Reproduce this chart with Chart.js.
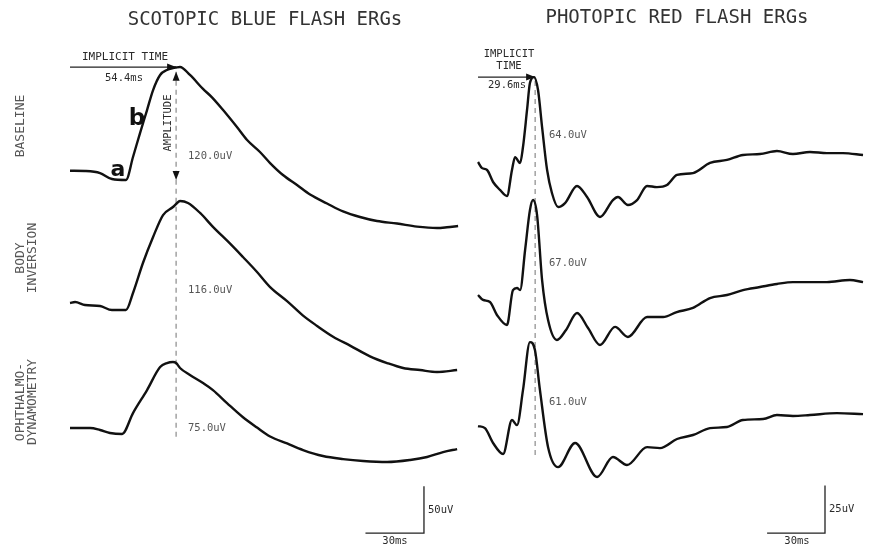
<!DOCTYPE html>
<html>
<head>
<meta charset="utf-8">
<script src="https://cdn.jsdelivr.net/npm/chart.js@4.4.1/dist/chart.umd.min.js"></script>
<style>
  html, body { margin: 0; padding: 0; background: #fff; }
  #wrap { position: relative; width: 869px; height: 545px; }
</style>
</head>
<body>
<div id="wrap"><canvas id="erg-chart" width="869" height="545"></canvas></div>
<script>
// scotopic blue flash ERGs: time (ms after flash) and response (uV from pre-flash level)
let scotBaseT = [0, 7.7, 15.4, 21.5, 28.7, 32.3, 35.9, 39.5, 42.6, 46.2, 49.7, 52.8, 54.4, 56.4, 61.5, 68.2, 72.8, 78.5, 85.6, 90.8, 97.4, 102.6, 109.2, 116.4, 123.1, 131.8, 140.0, 148.7, 157.4, 167.7, 177.9, 188.2, 193.3, 199.0];
let scotBaseV = [0, -0.3, -2.5, -8.9, -9.9, 14.7, 40.3, 64.9, 86.3, 102.4, 107.7, 109.8, 110.4, 110.9, 102.4, 87.5, 78.5, 64.9, 46.7, 32.8, 20.0, 8.2, -4.6, -15.3, -25.5, -35.0, -43.5, -49.5, -53.8, -56.5, -59.8, -61.3, -60.5, -59.1];
let scotBodyT = [0, 2.6, 7.7, 15.4, 21.5, 28.7, 32.3, 37.4, 42.6, 47.7, 52.8, 54.4, 56.4, 60.5, 66.7, 73.3, 82.1, 88.7, 95.9, 102.6, 111.3, 119.5, 126.7, 134.9, 143.6, 153.8, 162.6, 170.8, 179.5, 188.2, 198.5];
let scotBodyV = [0, 1.1, -2.1, -3.2, -7.5, -7.5, 10.7, 42.8, 70.6, 94.1, 102.7, 105.9, 109.1, 107.0, 96.3, 81.5, 63.5, 49.2, 33.2, 17.1, 2.0, -13.5, -24.5, -36.0, -45.5, -57.0, -64.2, -69.5, -71.7, -73.8, -71.7];
let scotOphT = [0, 10.3, 15.4, 20.5, 26.7, 32.3, 39.5, 46.2, 49.7, 52.8, 54.4, 56.4, 61.5, 68.2, 73.3, 80.5, 88.7, 95.9, 102.6, 111.3, 119.5, 129.7, 140.0, 150.3, 162.6, 174.4, 183.1, 191.3, 198.5];
let scotOphV = [0, 0, -2.1, -5.3, -6.4, 16.0, 40.6, 65.2, 69.5, 70.6, 69.5, 64.2, 56.7, 48.1, 40.6, 26.7, 11.5, 0.5, -9.0, -16.5, -23.5, -29.9, -33.2, -35.3, -36.4, -34.2, -31.0, -25.7, -22.5];

// photopic red flash ERGs
let photBaseT = [0, 2.1, 4.7, 7.8, 11.4, 15.0, 17.6, 19.2, 21.8, 23.3, 25.4, 26.9, 29.0, 31.1, 33.2, 35.8, 38.3, 41.5, 45.1, 51.3, 56.5, 63.2, 69.9, 72.5, 77.7, 82.4, 87.6, 92.7, 97.9, 103.1, 111.4, 120.2, 129.0, 137.3, 146.1, 154.9, 163.2, 172.0, 180.8, 189.1, 199.5];
let photBaseV = [0, -3.2, -4.2, -10.5, -14.7, -17.9, -4.2, 2.6, -0.5, 7.9, 27.4, 41.6, 44.7, 37.9, 18.4, -4.2, -16.3, -23.7, -21.6, -12.6, -18.4, -28.9, -20.0, -18.4, -22.6, -20.0, -12.6, -13.2, -12.1, -6.8, -5.8, -0.5, 1.1, 3.7, 4.2, 5.8, 4.2, 5.3, 4.7, 4.7, 3.7];
let photBodyT = [0, 2.6, 6.2, 9.8, 15.0, 18.1, 20.2, 21.8, 24.4, 26.9, 28.5, 30.6, 33.2, 36.3, 40.9, 45.6, 51.3, 57.0, 63.2, 71.0, 77.7, 87.6, 95.9, 103.0, 111.4, 120.2, 129.0, 137.3, 146.1, 154.9, 163.2, 180.8, 192.7, 199.5];
let photBodyV = [0, -2.6, -3.7, -10.5, -15.8, 2.6, 3.7, 2.6, 23.7, 44.7, 50.0, 42.1, 7.9, -13.2, -23.7, -18.4, -9.5, -17.4, -26.3, -16.8, -22.1, -11.6, -11.6, -9.0, -6.8, -1.6, 0, 2.6, 4.2, 5.8, 6.8, 6.8, 7.9, 6.8];
let photOphT = [0, 3.6, 7.8, 13.0, 17.6, 20.2, 23.3, 26.9, 29.5, 32.1, 36.3, 41.5, 50.3, 61.7, 69.9, 77.2, 87.6, 94.3, 103.1, 111.4, 120.2, 129.0, 137.3, 147.7, 154.9, 163.2, 172.0, 186.0, 199.5];
let photOphV = [0, -1.1, -8.9, -14.7, 3.2, 0.5, 18.9, 44.2, 40.0, 18.9, -11.1, -21.6, -8.9, -26.8, -16.3, -20.5, -11.1, -11.6, -6.8, -4.7, -1.1, -0.5, 3.2, 3.7, 5.8, 5.3, 5.8, 6.8, 6.3];

// measured values printed on the figure
let scotAmps = [120, 116, 75];
let photAmps = [64, 67, 61];
let scotImplicit = 54.4;
let photImplicit = 29.6;
let barMs = 30;
let scotBarUv = 50;
let photBarUv = 25;

// layout: vertical stacking of the three rows (uV) and scale-bar corners
let scotRowShift = [0, -141.5, -275.2];
let photRowShift = [0, -70, -139];
let scotBarCorner = { x: 181.5, y: -387.5 };
let photBarCorner = { x: 179.8, y: -195.3 };

let toXY = (ts, vs, shift) => ts.map((t, i) => ({ x: t, y: vs[i] + shift }));

let trace = (ts, vs, shift, side) => ({
  data: toXY(ts, vs, shift),
  xAxisID: 'x' + side,
  yAxisID: 'y' + side,
  borderColor: '#111',
  borderWidth: 2.4,
  cubicInterpolationMode: 'monotone',
  pointRadius: 0,
  fill: false,
  clip: false,
});

let thinLine = (pts, side, dash) => ({
  data: pts,
  xAxisID: 'x' + side,
  yAxisID: 'y' + side,
  borderColor: dash ? '#8a8a8a' : '#222',
  borderWidth: dash ? 1.2 : 1.3,
  borderDash: dash ? [5, 4] : [],
  tension: 0,
  pointRadius: 0,
  fill: false,
  clip: false,
});

let scotPeak = Math.max(...scotBaseV);
let scotTrough = Math.min(...scotBaseV.slice(0, 6));
let photPeak = Math.max(...photBaseV);

let datasets = [
  trace(scotBaseT, scotBaseV, scotRowShift[0], 'L'),
  trace(scotBodyT, scotBodyV, scotRowShift[1], 'L'),
  trace(scotOphT, scotOphV, scotRowShift[2], 'L'),
  trace(photBaseT, photBaseV, photRowShift[0], 'R'),
  trace(photBodyT, photBodyV, photRowShift[1], 'R'),
  trace(photOphT, photOphV, photRowShift[2], 'R'),
  // implicit time arrows
  thinLine([{ x: 0, y: scotPeak }, { x: scotImplicit, y: scotPeak }], 'L', false),
  thinLine([{ x: 0, y: photPeak }, { x: photImplicit, y: photPeak }], 'R', false),
  // dashed peak markers
  thinLine([{ x: scotImplicit, y: scotPeak - 5 }, { x: scotImplicit, y: scotRowShift[2] - 11 }], 'L', true),
  thinLine([{ x: photImplicit, y: photPeak - 2 }, { x: photImplicit, y: photRowShift[2] - 17 }], 'R', true),
  // calibration bars
  thinLine([
    { x: scotBarCorner.x - barMs, y: scotBarCorner.y },
    { x: scotBarCorner.x, y: scotBarCorner.y },
    { x: scotBarCorner.x, y: scotBarCorner.y + scotBarUv },
  ], 'L', false),
  thinLine([
    { x: photBarCorner.x - barMs, y: photBarCorner.y },
    { x: photBarCorner.x, y: photBarCorner.y },
    { x: photBarCorner.x, y: photBarCorner.y + photBarUv },
  ], 'R', false),
];

let mono = "'DejaVu Sans Mono', monospace";

let drawText = (ctx, txt, x, y, font, color, align, rot) => {
  ctx.save();
  ctx.translate(x, y);
  if (rot) ctx.rotate(rot);
  ctx.font = font;
  ctx.fillStyle = color;
  ctx.textAlign = align || 'left';
  ctx.textBaseline = 'middle';
  ctx.fillText(txt, 0, 0);
  ctx.restore();
};

let arrowHead = (ctx, x, y, dir) => {
  let len = 9, half = 3.5;
  ctx.beginPath();
  ctx.moveTo(x, y);
  if (dir === 'right') { ctx.lineTo(x - len, y - half); ctx.lineTo(x - len, y + half); }
  if (dir === 'up') { ctx.lineTo(x - half, y + len); ctx.lineTo(x + half, y + len); }
  if (dir === 'down') { ctx.lineTo(x - half, y - len); ctx.lineTo(x + half, y - len); }
  ctx.closePath();
  ctx.fill();
};

let ergLabels = {
  id: 'ergLabels',
  afterDatasetsDraw(chart) {
    let ctx = chart.ctx;
    let s = chart.scales;
    let ink = '#2a2a2a', soft = '#555';
    let up = -Math.PI / 2;

    // titles
    drawText(ctx, 'SCOTOPIC BLUE FLASH ERGs', 265, 20, '19px ' + mono, '#333', 'center');
    drawText(ctx, 'PHOTOPIC RED FLASH ERGs', 677, 18, '19px ' + mono, '#333', 'center');

    // row labels
    drawText(ctx, 'BASELINE', 21, 126, '13px ' + mono, soft, 'center', up);
    drawText(ctx, 'BODY', 21, 258, '13px ' + mono, soft, 'center', up);
    drawText(ctx, 'INVERSION', 33, 258, '13px ' + mono, soft, 'center', up);
    drawText(ctx, 'OPHTHALMO-', 21, 402, '13px ' + mono, soft, 'center', up);
    drawText(ctx, 'DYNAMOMETRY', 33, 402, '13px ' + mono, soft, 'center', up);

    // arrowheads
    ctx.fillStyle = '#111';
    let lx = s.xL.getPixelForValue(scotImplicit);
    arrowHead(ctx, lx, s.yL.getPixelForValue(scotPeak), 'right');
    arrowHead(ctx, lx, s.yL.getPixelForValue(scotPeak - 5), 'up');
    arrowHead(ctx, lx, s.yL.getPixelForValue(scotTrough), 'down');
    let rx = s.xR.getPixelForValue(photImplicit);
    arrowHead(ctx, rx, s.yR.getPixelForValue(photPeak), 'right');

    // left panel annotations
    drawText(ctx, 'IMPLICIT TIME', 125, 57, '11px ' + mono, ink, 'center');
    drawText(ctx, scotImplicit.toFixed(1) + 'ms', 124, 78, '10.5px ' + mono, ink, 'center');
    drawText(ctx, 'AMPLITUDE', 168, 123, '10.5px ' + mono, ink, 'center', up);
    drawText(ctx, 'a', 118, 170, 'bold 22px "DejaVu Sans", sans-serif', '#111', 'center');
    drawText(ctx, 'b', 137, 119, 'bold 23px "DejaVu Sans", sans-serif', '#111', 'center');
    let ampY = [156, 290, 428];
    scotAmps.forEach((a, i) => drawText(ctx, a.toFixed(1) + 'uV', 188, ampY[i], '10.5px ' + mono, soft, 'left'));
    drawText(ctx, scotBarUv + 'uV', 428, 510, '10.5px ' + mono, ink, 'left');
    drawText(ctx, barMs + 'ms', 395, 541, '10.5px ' + mono, ink, 'center');

    // right panel annotations
    drawText(ctx, 'IMPLICIT', 509, 54, '10.5px ' + mono, ink, 'center');
    drawText(ctx, 'TIME', 509, 66, '10.5px ' + mono, ink, 'center');
    drawText(ctx, photImplicit.toFixed(1) + 'ms', 507, 85, '10.5px ' + mono, ink, 'center');
    let pAmpY = [135, 263, 402];
    photAmps.forEach((a, i) => drawText(ctx, a.toFixed(1) + 'uV', 549, pAmpY[i], '10.5px ' + mono, soft, 'left'));
    drawText(ctx, photBarUv + 'uV', 829, 509, '10.5px ' + mono, ink, 'left');
    drawText(ctx, barMs + 'ms', 797, 541, '10.5px ' + mono, ink, 'center');
  },
};

new Chart(document.getElementById('erg-chart'), {
  type: 'line',
  data: { datasets: datasets },
  options: {
    responsive: false,
    animation: false,
    layout: { padding: 0 },
    plugins: { legend: { display: false }, tooltip: { enabled: false } },
    scales: {
      xL: { type: 'linear', display: false, min: -35.9, max: 409.7 },
      xR: { type: 'linear', display: false, min: -247.7, max: 202.6 },
      yL: { type: 'linear', display: false, min: -400.3, max: 182.6 },
      yR: { type: 'linear', display: false, min: -201.6, max: 85.3 },
    },
  },
  plugins: [ergLabels],
});
</script>
</body>
</html>
